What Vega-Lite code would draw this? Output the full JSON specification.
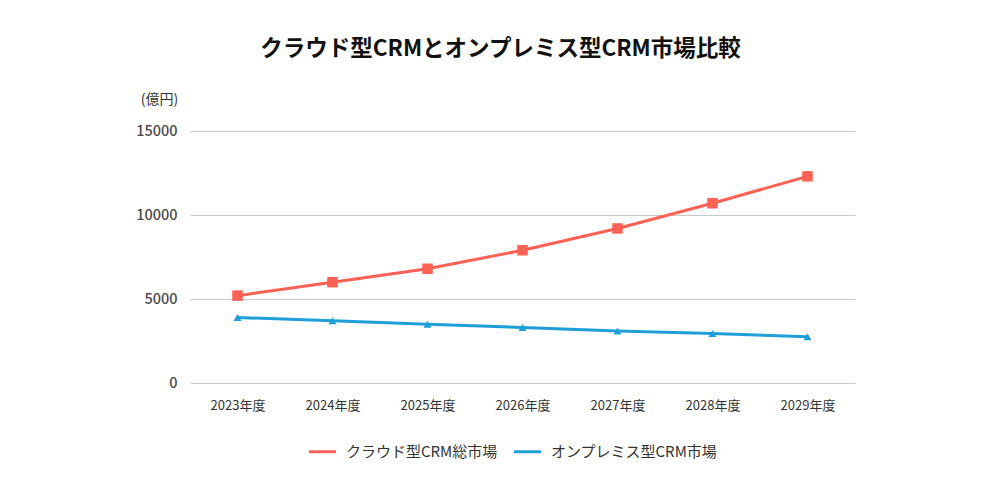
{
  "$schema": "https://vega.github.io/schema/vega-lite/v6.json",
  "autosize": {"type": "none"},
  "width": 665,
  "height": 252,
  "padding": {"left": 190, "top": 131, "right": 145, "bottom": 117},
  "background": "white",
  "title": {
    "text": "クラウド型CRMとオンプレミス型CRM市場比較",
    "font": "Noto Sans CJK JP",
    "fontSize": 22.5,
    "fontWeight": "bold",
    "color": "#111111",
    "anchor": "middle",
    "frame": "group",
    "dx": -22,
    "offset": 32
  },
  "config": {
    "font": "Noto Sans CJK JP",
    "view": {"stroke": null}
  },
  "data": {
    "values": [
      {"year": "2023年度", "series": "クラウド型CRM総市場", "value": 5200},
      {"year": "2024年度", "series": "クラウド型CRM総市場", "value": 6000},
      {"year": "2025年度", "series": "クラウド型CRM総市場", "value": 6800},
      {"year": "2026年度", "series": "クラウド型CRM総市場", "value": 7900},
      {"year": "2027年度", "series": "クラウド型CRM総市場", "value": 9200},
      {"year": "2028年度", "series": "クラウド型CRM総市場", "value": 10700},
      {"year": "2029年度", "series": "クラウド型CRM総市場", "value": 12300},
      {"year": "2023年度", "series": "オンプレミス型CRM市場", "value": 3900},
      {"year": "2024年度", "series": "オンプレミス型CRM市場", "value": 3700},
      {"year": "2025年度", "series": "オンプレミス型CRM市場", "value": 3500},
      {"year": "2026年度", "series": "オンプレミス型CRM市場", "value": 3300},
      {"year": "2027年度", "series": "オンプレミス型CRM市場", "value": 3100},
      {"year": "2028年度", "series": "オンプレミス型CRM市場", "value": 2950},
      {"year": "2029年度", "series": "オンプレミス型CRM市場", "value": 2750}
    ]
  },
  "encoding": {
    "x": {
      "field": "year",
      "type": "ordinal",
      "scale": {"type": "point", "padding": 0.5},
      "axis": {
        "title": null,
        "labelAngle": 0,
        "domain": false,
        "ticks": false,
        "labelFontSize": 13,
        "labelColor": "#333333",
        "labelPadding": 16
      }
    },
    "y": {
      "field": "value",
      "type": "quantitative",
      "scale": {"domain": [0, 15000]},
      "axis": {
        "values": [0, 5000, 10000, 15000],
        "format": "d",
        "title": "(億円)",
        "titleAngle": 0,
        "titleX": -31,
        "titleY": -32,
        "titleAlign": "center",
        "titleBaseline": "middle",
        "titleFontSize": 14,
        "titleFontWeight": "normal",
        "titleColor": "#333333",
        "domain": false,
        "ticks": false,
        "labelFontSize": 14.5,
        "labelFontWeight": 500,
        "labelColor": "#4a4a4a",
        "labelPadding": 13,
        "gridColor": "#c8c8c8",
        "gridWidth": 1
      }
    },
    "color": {
      "field": "series",
      "type": "nominal",
      "sort": ["クラウド型CRM総市場", "オンプレミス型CRM市場"],
      "scale": {
        "domain": ["クラウド型CRM総市場", "オンプレミス型CRM市場"],
        "range": ["#FF6154", "#1F9FD8"]
      },
      "legend": {
        "title": null,
        "orient": "none",
        "legendX": 117,
        "legendY": 305,
        "direction": "horizontal",
        "labelFontSize": 15,
        "labelColor": "#333333",
        "labelLimit": 300,
        "symbolType": "stroke",
        "symbolStrokeWidth": 3,
        "symbolSize": 730,
        "labelOffset": 8,
        "columnPadding": 9
      }
    }
  },
  "layer": [
    {
      "mark": {"type": "line", "strokeWidth": 3}
    },
    {
      "transform": [{"filter": "datum.series === 'クラウド型CRM総市場'"}],
      "mark": {"type": "point", "filled": true, "opacity": 1, "shape": "square", "size": 110}
    },
    {
      "transform": [{"filter": "datum.series === 'オンプレミス型CRM市場'"}],
      "mark": {"type": "point", "filled": true, "opacity": 1, "shape": "triangle-up", "size": 65}
    }
  ]
}
